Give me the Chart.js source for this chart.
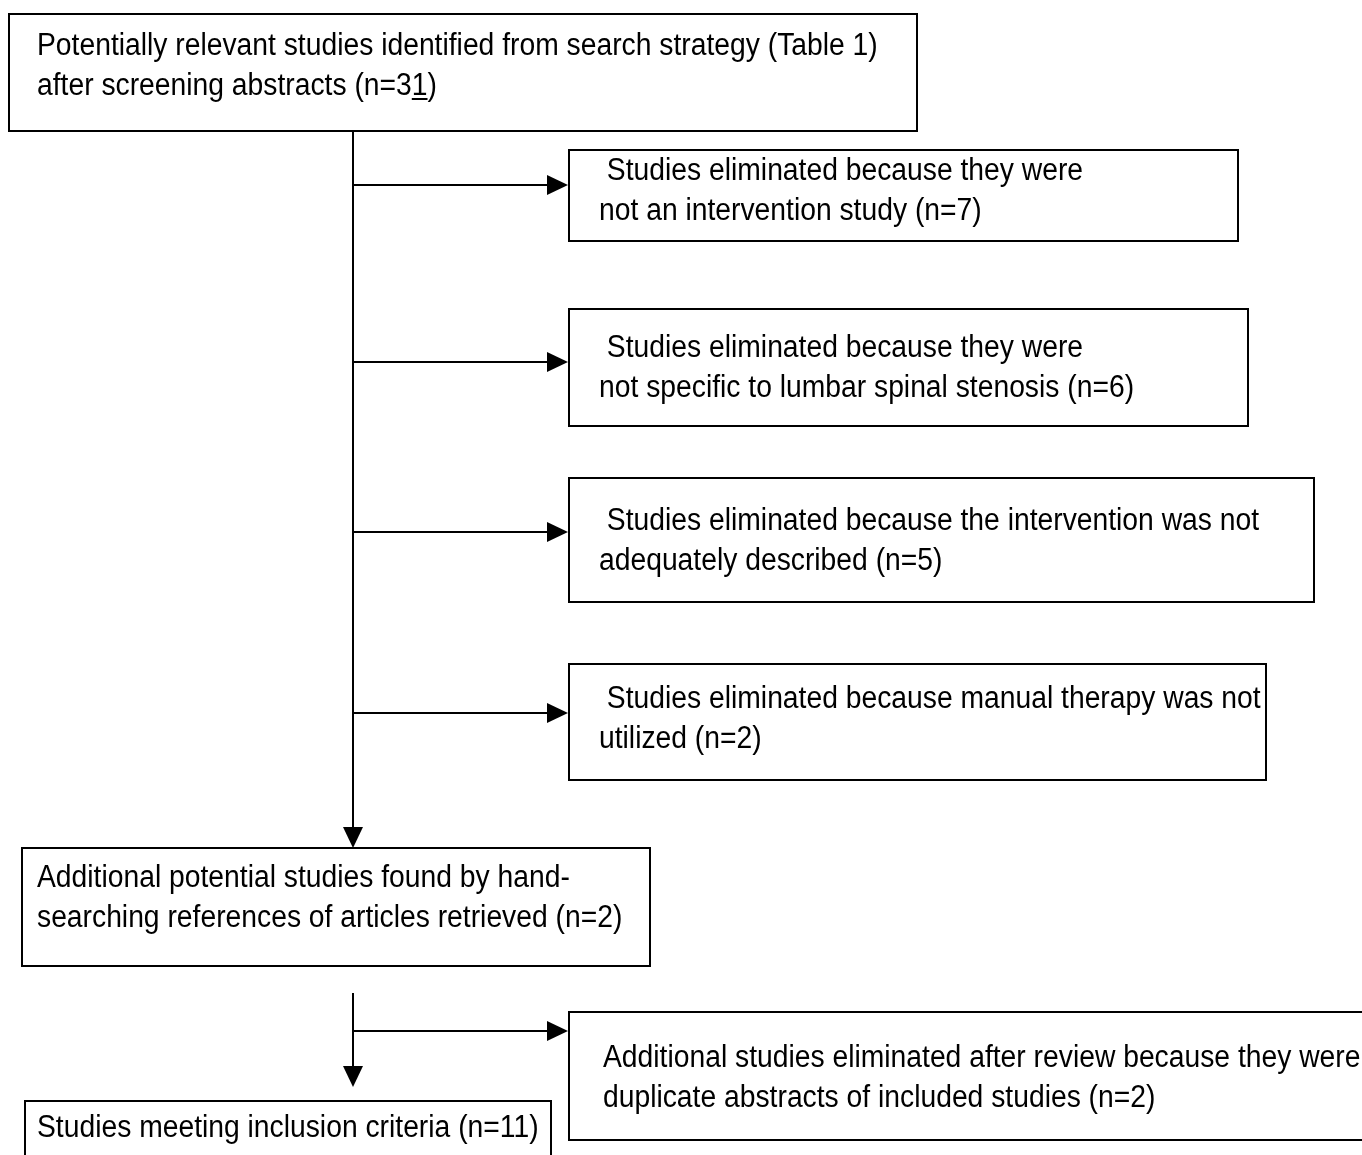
<!DOCTYPE html>
<html>
<head>
    <title>Study selection flow</title>
    <script src="https://cdn.jsdelivr.net/npm/chart.js"></script>
    <style>
        body { margin: 0; background: #fff; }
    </style>
</head>
<body>
    <canvas id="flowChart" width="1362" height="1155"></canvas>
    <script>
        // box edges in diagram units (same as the 1362 x 1155 page)
        const boxLeft   = [9,   569,  569,  569,  569,  22,   569,  25];
        const boxTop    = [14,  150,  309,  478,  664,  848,  1012, 1101];
        const boxRight  = [917, 1238, 1248, 1314, 1266, 650,  1400, 551];
        const boxBottom = [131, 241,  426,  602,  780,  966,  1140, 1180];

        const boxText = [
            ['Potentially relevant studies identified from search strategy (Table 1)', 'after screening abstracts (n=31)'],
            [' Studies eliminated because they were', 'not an intervention study (n=7)'],
            [' Studies eliminated because they were', 'not specific to lumbar spinal stenosis (n=6)'],
            [' Studies eliminated because the intervention was not', 'adequately described (n=5)'],
            [' Studies eliminated because manual therapy was not', 'utilized (n=2)'],
            ['Additional potential studies found by hand-', 'searching references of articles retrieved (n=2)'],
            ['Additional studies eliminated after review because they were', 'duplicate abstracts of included studies (n=2)'],
            ['Studies meeting inclusion criteria (n=11)']
        ];
        const textLeft = [37, 599, 599, 599, 599, 37, 603, 37];
        const textBaseline = [55, 180, 357, 530, 708, 887, 1067, 1137];
        const lineGap = 40;

        // connectors: start and end points, arrowhead at the end
        const connFrom = [[353, 131], [353, 185], [353, 362], [353, 532], [353, 713], [353, 993], [353, 1031]];
        const connTo   = [[353, 848], [568, 185], [568, 362], [568, 532], [568, 713], [353, 1087], [568, 1031]];

        // "1" of n=31 is underlined in the source
        const underline = { box: 0, line: 1, from: 30, to: 31 };

        // no narrow font installed: squeeze Liberation Sans horizontally
        const FONT = '31px "Liberation Sans", Arial, sans-serif';
        const SQUEEZE = 0.912;

        const flowPlugin = {
            id: 'flow',
            afterDatasetsDraw(chart) {
                const ctx = chart.ctx;
                const xs = chart.scales.x, ys = chart.scales.y;
                const px = v => xs.getPixelForValue(v);
                const py = v => ys.getPixelForValue(v);
                ctx.save();
                ctx.strokeStyle = '#000';
                ctx.fillStyle = '#000';
                ctx.lineWidth = 2;

                // boxes
                for (let i = 0; i < boxLeft.length; i++) {
                    ctx.strokeRect(px(boxLeft[i]), py(boxTop[i]),
                        px(boxRight[i]) - px(boxLeft[i]), py(boxBottom[i]) - py(boxTop[i]));
                }

                // connectors with arrowheads
                connFrom.forEach((a, i) => {
                    const b = connTo[i];
                    const x1 = px(a[0]), y1 = py(a[1]), x2 = px(b[0]), y2 = py(b[1]);
                    const ang = Math.atan2(y2 - y1, x2 - x1);
                    const head = 21, half = 10;
                    const c = Math.cos(ang), s = Math.sin(ang);
                    ctx.beginPath();
                    ctx.moveTo(x1, y1);
                    ctx.lineTo(x2 - c * head, y2 - s * head);
                    ctx.stroke();
                    ctx.beginPath();
                    ctx.moveTo(x2, y2);
                    ctx.lineTo(x2 - c * head - s * half, y2 - s * head + c * half);
                    ctx.lineTo(x2 - c * head + s * half, y2 - s * head - c * half);
                    ctx.closePath();
                    ctx.fill();
                });

                // text
                ctx.font = FONT;
                ctx.textBaseline = 'alphabetic';
                ctx.textAlign = 'left';
                boxText.forEach((lines, i) => {
                    lines.forEach((t, j) => {
                        ctx.save();
                        ctx.translate(px(textLeft[i]), py(textBaseline[i] + j * lineGap));
                        ctx.scale(SQUEEZE, 1);
                        ctx.fillText(t, 0, 0);
                        ctx.restore();
                    });
                });

                // underline
                const u = underline;
                const t = boxText[u.box][u.line];
                const ux = px(textLeft[u.box]) + ctx.measureText(t.slice(0, u.from)).width * SQUEEZE;
                const uw = ctx.measureText(t.slice(u.from, u.to)).width * SQUEEZE;
                const uy = py(textBaseline[u.box] + u.line * lineGap) + 3;
                ctx.fillRect(ux, uy, uw, 2);
                ctx.restore();
            }
        };

        new Chart(document.getElementById('flowChart'), {
            type: 'scatter',
            data: { datasets: [{ data: [], pointRadius: 0 }] },
            options: {
                responsive: false,
                animation: false,
                devicePixelRatio: 1,
                layout: { padding: 0 },
                plugins: { legend: { display: false }, tooltip: { enabled: false } },
                scales: {
                    x: { type: 'linear', min: 0, max: 1362, display: false },
                    y: { type: 'linear', min: 0, max: 1155, reverse: true, display: false }
                }
            },
            plugins: [flowPlugin]
        });
    </script>
</body>
</html>
